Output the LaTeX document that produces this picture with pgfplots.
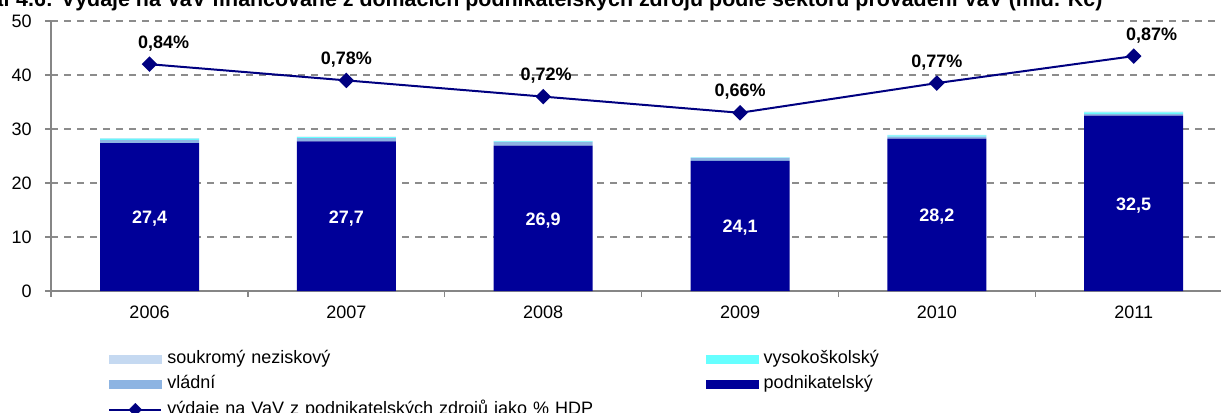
\documentclass[border=0pt]{standalone}
\usepackage{pgfplots}
\usepackage{pgfplotstable}
\pgfplotsset{compat=1.18}
\usepackage{fontspec}
\setmainfont{Liberation Sans}
\definecolor{podnik}{RGB}{0,0,153}
\definecolor{vladni}{RGB}{141,180,226}
\definecolor{vysoko}{RGB}{102,255,255}
\definecolor{soukromy}{RGB}{197,217,241}
\definecolor{lineblue}{RGB}{0,0,128}
\definecolor{axisgray}{RGB}{134,134,134}
\definecolor{gridgray}{RGB}{140,140,140}
\pgfplotstableread{
x p v vs s pct dx
0 27.4 0.6 0.2 0.1 0.84 14
1 27.7 0.6 0.2 0.1 0.78 0
2 26.9 0.7 0.1 0.1 0.72 3
3 24.1 0.5 0.1 0.1 0.66 0
4 28.2 0.4 0.2 0.1 0.77 0
5 32.5 0.3 0.3 0.1 0.87 18
}\data
\pgfplotsset{
  common/.style={
    at={(0,0)}, anchor=south west,
    scale only axis, width=1181bp, height=270bp,
    xmin=-0.5, xmax=5.5, clip=false,
  }
}
\begin{document}
\begin{tikzpicture}[x=1bp,y=1bp,font=\fontsize{18bp}{21.6bp}\selectfont]
\useasboundingbox (-51.1,-121) rectangle (1169.9,291);
\clip (-51.1,-121) rectangle (1169.9,291);
% bars
\begin{axis}[common,
  ymin=0, ymax=50,
  ybar stacked, bar width=99bp,
  axis x line*=bottom, axis y line*=left,
  axis line style={-, draw=axisgray, line width=1.3bp},
  ytick={0,10,...,50},
  xtick={-0.5,0.5,...,5.5}, xticklabels={},
  extra x ticks={0,1,2,3,4,5},
  extra x tick labels={2006,2007,2008,2009,2010,2011},
  extra x tick style={major tick length=0pt, grid=none},
  tick align=outside, major tick length=6bp,
  tick style={draw=axisgray, line width=1.3bp},
  ymajorgrids,
  major grid style={draw=gridgray, line width=1.4bp, dash pattern=on 7bp off 6bp},
  yticklabel style={xshift=-10bp},
  xticklabel style={yshift=-11bp},
  /pgf/number format/assume math mode=true,
]
\addplot[fill=podnik, draw=none] table[x=x,y=p]{\data};
\addplot[fill=vladni, draw=none] table[x=x,y=v]{\data};
\addplot[fill=vysoko, draw=none] table[x=x,y=vs]{\data};
\addplot[fill=soukromy, draw=none] table[x=x,y=s]{\data};
\end{axis}
% bar value labels and legend
\begin{axis}[common, ymin=0, ymax=50, hide axis,
  legend columns=2,
  legend style={draw=none, fill=none, at={(axis description cs:0.0483,-0.2185)}, anchor=north west,
    inner sep=0pt, row sep=8.5bp, column sep=0pt,
    nodes={inner sep=0pt, text height=13bp, text depth=4bp},
    /tikz/every odd column/.append style={column sep=5bp},
    /tikz/every even column/.append style={text width=539bp, align=left},
  },
]
\addplot[draw=none, mark=none, forget plot, point meta=explicit,
  nodes near coords={\pgfmathprintnumber[assume math mode=true,fixed,fixed zerofill,precision=1,use comma]{\pgfplotspointmeta}},
  every node near coord/.style={anchor=center, yshift=-2bp, text=white, font=\fontsize{18bp}{21.6bp}\selectfont\bfseries}]
  table[x=x, y expr=\thisrow{p}/2, meta=p]{\data};
\addlegendimage{legend image code/.code={\fill[soukromy] (0bp,-4bp) rectangle (52bp,4bp);}}
\addlegendentry{soukromý neziskový}
\addlegendimage{legend image code/.code={\fill[vysoko] (0bp,-4bp) rectangle (52bp,4bp);}}
\addlegendentry{vysokoškolský}
\addlegendimage{legend image code/.code={\fill[vladni] (0bp,-4bp) rectangle (52bp,4bp);}}
\addlegendentry{vládní}
\addlegendimage{legend image code/.code={\fill[podnik] (0bp,-4bp) rectangle (52bp,4bp);}}
\addlegendentry{podnikatelský}
\addlegendimage{legend image code/.code={\draw[lineblue, line width=2bp] (0bp,0bp) -- (52bp,0bp);
  \fill[lineblue] (26bp,6.4bp) -- (32.4bp,0bp) -- (26bp,-6.4bp) -- (19.6bp,0bp) -- cycle;}}
\addlegendentry{výdaje na VaV z podnikatelských zdrojů jako \% HDP}
\end{axis}
% line on its own scale
\begin{axis}[common, ymin=0, ymax=1, hide axis]
\addplot[color=lineblue, line width=2bp, mark=square*, mark size=4.5bp,
  mark options={rotate=45, fill=lineblue, draw=lineblue},
  point meta=explicit,
  visualization depends on={\thisrow{dx} \as \labeldx},
  nodes near coords={\pgfmathprintnumber[assume math mode=true,fixed,fixed zerofill,precision=2,use comma]{\pgfplotspointmeta}\%},
  every node near coord/.style={anchor=base, xshift=\labeldx bp, yshift=16bp, text=black, font=\fontsize{18bp}{21.6bp}\selectfont\bfseries}]
  table[x=x, y=pct, meta=pct]{\data};
\end{axis}
\node[anchor=base west, inner sep=0pt, font=\fontsize{21.4bp}{25bp}\selectfont\bfseries] at (-85,284.5)
  {Graf 4.6: Výdaje na VaV financované z domácích podnikatelských zdrojů podle sektoru provádění VaV (mld. Kč)};
\end{tikzpicture}
\end{document}
